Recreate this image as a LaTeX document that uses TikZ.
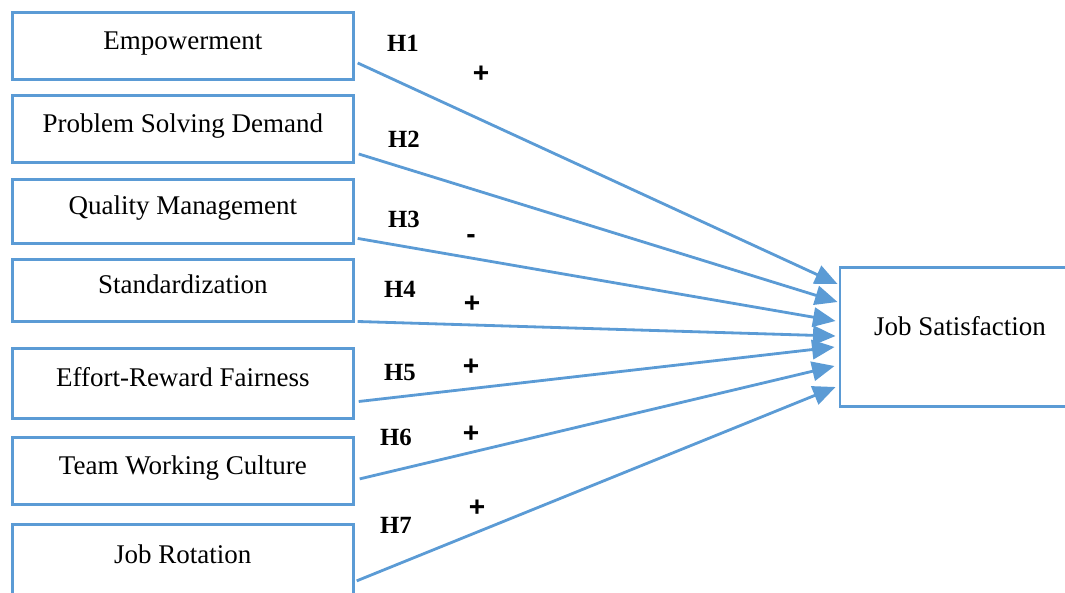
\documentclass[tikz,border=0pt]{standalone}
\usepackage{fontspec}
\setmainfont{Liberation Serif}
\newfontfamily\signfont{Liberation Sans}
\usetikzlibrary{arrows.meta,positioning,calc}
\definecolor{lineblue}{RGB}{91,155,213}
\tikzstyle{line} = [draw, line width=1.25pt, color=lineblue, -{Triangle[length=10pt,width=8.6pt]}]
\tikzstyle{hyp} = [font=\fontsize{11}{13}\selectfont\bfseries]
\tikzstyle{sign} = [font=\fontsize{12.5}{14}\selectfont\signfont\bfseries]

\begin{document}
\begin{tikzpicture}[x=0.015625cm, y=-0.015625cm]
\tikzset{block/.style={rectangle, draw=lineblue, line width=1.3pt, minimum width=151.5pt, text height=8pt, text depth=5pt, font=\fontsize{12}{14}\selectfont}}
\useasboundingbox (0,0) rectangle (1065,592);

% factors
\node [block, anchor=north west, minimum height=29.8pt] (emp) at (11,11) {Empowerment};
\node [block, below=5.8pt of emp,  minimum height=29.8pt] (psd) {Problem Solving Demand};
\node [block, below=6.2pt of psd,  minimum height=28.5pt] (qm)  {Quality Management};
\node [block, below=5.8pt of qm,   minimum height=27.6pt] (std) {Standardization};
\node [block, below=10.7pt of std, minimum height=31.1pt] (erf) {Effort-Reward Fairness};
\node [block, below=7.1pt of erf,  minimum height=29.8pt] (twc) {Team Working Culture};
\node [block, below=7.6pt of twc,  minimum height=31.5pt] (jr)  {Job Rotation};

\node [block, minimum width=106.7pt, minimum height=61.8pt, text depth=9pt] (js) at (960,337) {Job Satisfaction};

\path [line] ($(emp.east)+(3,17)$) -- ($(js.west)+(-1,-53)$);
\path [line] ($(psd.east)+(4,25)$) -- ($(js.west)+(-1,-35)$);
\path [line] ($(qm.east)+(3,27)$)  -- ($(js.west)+(-3,-16)$);
\path [line] ($(std.east)+(3,31)$) -- ($(js.west)+(-3,-1)$);
\path [line] ($(erf.east)+(4,18)$) -- ($(js.west)+(-4,10)$);
\path [line] ($(twc.east)+(5,8)$)  -- ($(js.west)+(-4,29)$);
\path [line] ($(jr.east)+(2,21)$)  -- ($(js.west)+(-3,50)$);

% hypotheses
\node [hyp] (h1) at (403,43)  {H1};
\node [hyp] (h2) at (404,139) {H2};
\node [hyp] (h3) at (404,219) {H3};
\node [hyp] (h4) at (400,289) {H4};
\node [hyp] (h5) at (400,373) {H5};
\node [hyp] (h6) at (396,437) {H6};
\node [hyp] (h7) at (396,525) {H7};

\node [sign] (s1) at (481,74)  {+};
\node [sign] (s3) at (471,239) {-};
\node [sign] (s4) at (472,304) {+};
\node [sign] (s5) at (471,367) {+};
\node [sign] (s6) at (471,434) {+};
\node [sign] (s7) at (477,508) {+};
\end{tikzpicture}
\end{document}
